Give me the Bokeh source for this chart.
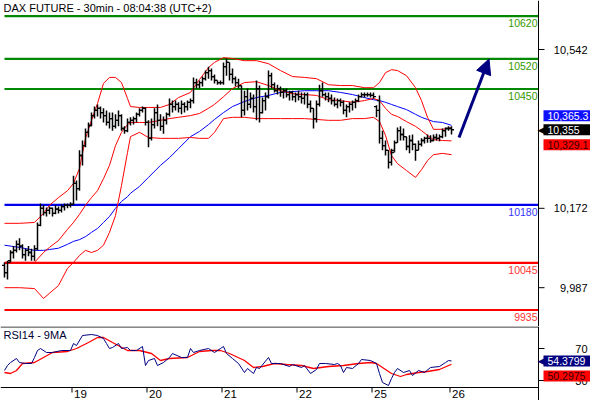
from bokeh.plotting import figure
from bokeh.layouts import column
from bokeh.models import (ColumnDataSource, Range1d, Label, Arrow, NormalHead)
from bokeh.core.properties import value
from bokeh.embed import file_html
from bokeh.resources import INLINE

# ---------------- data ----------------
title_text = "DAX FUTURE - 30min - 08:04:38 (UTC+2)"
rsi_title = "RSI14 - 9MA"

day_labels = ["19", "20", "21", "22", "25", "26"]
day_start = [22.5, 47.5, 72.5, 97.5, 122.5, 148.5]   # bar index where each day starts

open_ = [10039, 10022, 10050, 10069, 10074, 10088, 10084, 10064, 10074, 10069,
         10060, 10078, 10132, 10172, 10162, 10167, 10172, 10160, 10170, 10167,
         10176, 10179, 10179, 10181, 10230, 10218, 10295, 10318, 10349, 10365,
         10388, 10400, 10405, 10395, 10388, 10372, 10381, 10363, 10377, 10388,
         10358, 10353, 10372, 10377, 10381, 10391, 10400, 10405, 10372, 10335,
         10367, 10395, 10377, 10363, 10377, 10391, 10414, 10409, 10414, 10405,
         10414, 10409, 10419, 10423, 10465, 10460, 10465, 10474, 10488, 10493,
         10479, 10470, 10465, 10465, 10502, 10512, 10484, 10474, 10465, 10458,
         10400, 10432, 10414, 10428, 10409, 10451, 10395, 10423, 10432, 10481,
         10460, 10446, 10451, 10442, 10446, 10437, 10442, 10432, 10437, 10432,
         10428, 10437, 10414, 10405, 10381, 10414, 10446, 10437, 10432, 10428,
         10423, 10414, 10423, 10419, 10400, 10409, 10414, 10419, 10423, 10432,
         10437, 10437, 10437, 10435, 10409, 10423, 10335, 10318, 10307, 10279,
         10307, 10325, 10353, 10344, 10339, 10316, 10330, 10321, 10307, 10321,
         10330, 10335, 10335, 10330, 10337, 10335, 10339, 10353, 10358, 10358]

high = [10046, 10050, 10074, 10084, 10097, 10102, 10088, 10078, 10084, 10078,
        10086, 10139, 10183, 10179, 10174, 10176, 10174, 10179, 10176, 10181,
        10183, 10183, 10186, 10248, 10237, 10307, 10330, 10358, 10372, 10395,
        10409, 10414, 10409, 10405, 10400, 10395, 10395, 10391, 10400, 10391,
        10363, 10381, 10384, 10386, 10395, 10405, 10409, 10407, 10377, 10381,
        10405, 10414, 10391, 10386, 10395, 10428, 10423, 10423, 10419, 10423,
        10419, 10423, 10428, 10477, 10474, 10470, 10479, 10493, 10502, 10498,
        10484, 10470, 10470, 10512, 10521, 10512, 10498, 10479, 10474, 10458,
        10446, 10451, 10442, 10437, 10470, 10458, 10430, 10442, 10493, 10488,
        10465, 10460, 10456, 10451, 10451, 10446, 10446, 10442, 10446, 10442,
        10442, 10442, 10423, 10405, 10423, 10460, 10465, 10442, 10442, 10437,
        10430, 10428, 10428, 10423, 10414, 10419, 10423, 10428, 10437, 10442,
        10442, 10442, 10442, 10442, 10412, 10435, 10353, 10330, 10307, 10311,
        10330, 10360, 10363, 10358, 10339, 10342, 10344, 10323, 10330, 10335,
        10339, 10344, 10342, 10344, 10346, 10344, 10358, 10360, 10363, 10363]

low = [10011, 10006, 10046, 10055, 10069, 10074, 10055, 10050, 10060, 10050,
       10050, 10074, 10130, 10155, 10153, 10158, 10153, 10158, 10160, 10162,
       10167, 10172, 10174, 10179, 10190, 10213, 10272, 10314, 10337, 10363,
       10381, 10386, 10381, 10372, 10365, 10358, 10353, 10358, 10363, 10353,
       10346, 10349, 10365, 10367, 10372, 10386, 10395, 10365, 10314, 10330,
       10358, 10363, 10353, 10346, 10367, 10386, 10395, 10400, 10395, 10391,
       10395, 10400, 10405, 10416, 10451, 10451, 10456, 10470, 10474, 10470,
       10463, 10460, 10460, 10460, 10481, 10470, 10463, 10456, 10451, 10384,
       10388, 10400, 10405, 10395, 10377, 10372, 10393, 10400, 10428, 10451,
       10442, 10437, 10432, 10428, 10430, 10423, 10423, 10419, 10423, 10416,
       10414, 10405, 10395, 10358, 10372, 10409, 10432, 10423, 10419, 10414,
       10409, 10405, 10409, 10391, 10384, 10395, 10400, 10405, 10419, 10430,
       10430, 10432, 10430, 10428, 10384, 10323, 10307, 10295, 10265, 10272,
       10302, 10325, 10330, 10330, 10307, 10300, 10307, 10283, 10307, 10316,
       10323, 10325, 10325, 10328, 10330, 10328, 10335, 10339, 10353, 10344]

close = [10022, 10046, 10069, 10074, 10088, 10084, 10064, 10074, 10069, 10060,
         10078, 10132, 10172, 10162, 10167, 10172, 10160, 10170, 10167, 10176,
         10179, 10179, 10181, 10230, 10218, 10295, 10318, 10349, 10365, 10388,
         10400, 10405, 10395, 10388, 10372, 10381, 10363, 10377, 10388, 10358,
         10353, 10372, 10377, 10381, 10391, 10400, 10405, 10372, 10335, 10367,
         10395, 10377, 10363, 10377, 10391, 10414, 10409, 10414, 10405, 10414,
         10409, 10419, 10423, 10465, 10460, 10465, 10474, 10488, 10493, 10479,
         10470, 10465, 10465, 10502, 10512, 10484, 10474, 10465, 10458, 10400,
         10432, 10414, 10428, 10409, 10451, 10395, 10423, 10432, 10481, 10460,
         10446, 10451, 10442, 10446, 10437, 10442, 10432, 10437, 10432, 10428,
         10437, 10414, 10405, 10381, 10414, 10446, 10437, 10432, 10428, 10423,
         10414, 10423, 10419, 10400, 10409, 10414, 10419, 10423, 10432, 10437,
         10437, 10437, 10435, 10432, 10400, 10335, 10318, 10307, 10279, 10302,
         10325, 10353, 10344, 10339, 10316, 10330, 10321, 10307, 10321, 10330,
         10335, 10335, 10330, 10337, 10335, 10339, 10353, 10358, 10358, 10355]

band_idx = [0, 5, 10, 13, 15, 18, 21, 23, 25, 27,
            29, 31, 33, 35, 37, 39, 41, 42, 45, 48,
            52, 55, 58, 62, 65, 68, 70, 73, 76, 80,
            84, 88, 92, 96, 100, 104, 108, 112, 116, 120,
            123, 125, 127, 129, 131, 134, 137, 139, 141, 143,
            146, 149]

bb_upper = [10137, 10137, 10139, 10160, 10179, 10197, 10213, 10230, 10265, 10335,
            10377, 10416, 10463, 10477, 10477, 10465, 10428, 10409, 10407, 10407,
            10407, 10414, 10430, 10442, 10472, 10500, 10512, 10523, 10521, 10516,
            10516, 10509, 10493, 10479, 10477, 10474, 10460, 10458, 10458, 10453,
            10453, 10465, 10488, 10495, 10493, 10481, 10453, 10423, 10384, 10356,
            10356, 10360]

bb_middle = [10046, 10046, 10046, 10069, 10081, 10097, 10123, 10139, 10158, 10179,
             10197, 10213, 10241, 10272, 10318, 10349, 10367, 10372, 10372, 10372,
             10377, 10381, 10384, 10388, 10393, 10405, 10414, 10432, 10451, 10465,
             10467, 10458, 10446, 10439, 10437, 10435, 10425, 10423, 10419, 10423,
             10428, 10423, 10405, 10391, 10386, 10374, 10363, 10353, 10342, 10332,
             10330, 10329.1]

bb_lower = [9987, 9987, 9985, 9962, 9974, 9992, 10032, 10046, 10062, 10074,
            10069, 10074, 10086, 10116, 10155, 10225, 10302, 10339, 10349, 10337,
            10335, 10335, 10335, 10337, 10335, 10335, 10349, 10381, 10384, 10384,
            10381, 10381, 10381, 10381, 10381, 10379, 10377, 10377, 10381, 10381,
            10384, 10374, 10342, 10295, 10276, 10260, 10244, 10262, 10283, 10297,
            10300, 10297]

ma_blue = [10086, 10081, 10074, 10074, 10076, 10079, 10088, 10095, 10099, 10106,
           10116, 10125, 10139, 10153, 10172, 10188, 10199, 10207, 10223, 10244,
           10272, 10290, 10311, 10339, 10351, 10367, 10379, 10395, 10409, 10421,
           10430, 10435, 10442, 10444, 10446, 10446, 10446, 10442, 10437, 10430,
           10425, 10423, 10419, 10414, 10409, 10402, 10391, 10384, 10379, 10374,
           10372, 10365.3]

level_values = [10620, 10520, 10450, 10180, 10045, 9935]
price_ticks = [10542, 10172, 9987]

forecast_from = 10337
forecast_to = 10520

rsi_idx = [0, 1, 2, 4, 5, 7, 9, 10, 11, 12,
           14, 16, 19, 22, 23, 24, 26, 29, 31, 33,
           34, 35, 36, 38, 39, 41, 42, 44, 46, 47,
           48, 50, 51, 53, 55, 56, 59, 61, 62, 63,
           65, 68, 70, 72, 73, 74, 76, 78, 80, 81,
           83, 84, 85, 88, 89, 92, 95, 96, 99, 100,
           102, 104, 105, 107, 110, 111, 112, 113, 114, 116,
           118, 119, 122, 124, 125, 126, 128, 129, 130, 131,
           133, 135, 136, 138, 140, 142, 145, 147, 148, 149]
rsi_val = [42.5, 48.75, 52.5, 57.5, 52.5, 51.25, 51.25, 58.75, 67.5, 70,
           65, 65, 67.5, 67.5, 76.25, 73.75, 86.25, 87.5, 86.25, 82.5,
           76.25, 70, 71.25, 76.25, 70, 71.25, 67.5, 67.5, 72.5, 48.75,
           55, 57.5, 48.75, 52.5, 58.75, 63.75, 58.75, 58.75, 70, 65,
           67.5, 70, 65, 70, 72.5, 63.75, 57.5, 51.25, 40, 45,
           38.75, 46.25, 45, 58.75, 51.25, 51.25, 47.5, 50, 46.25, 48.75,
           38.75, 43.75, 51.25, 51.25, 50, 51.25, 48.75, 40, 46.25, 45,
           51.25, 56.25, 55, 51.25, 38.75, 27.5, 23.75, 32.5, 40, 45,
           40, 42.5, 36.25, 42.5, 40, 46.25, 47.5, 52.5, 55, 54.3799]

rsi_ma_idx = [0, 2, 4, 6, 10, 13, 16, 21, 24, 28,
              31, 33, 36, 41, 45, 49, 52, 55, 61, 65,
              69, 72, 75, 80, 83, 86, 90, 94, 99, 103,
              108, 113, 118, 122, 124, 127, 129, 132, 134, 138,
              141, 145, 149]
rsi_ma_val = [40, 38.75, 42.5, 51.25, 52.5, 58.75, 65, 66.25, 70, 77.5,
              83.75, 83.75, 77.5, 67.5, 67.5, 63.75, 55, 57.5, 58.75, 66.25,
              67.5, 67.5, 63.75, 55, 46.25, 47.5, 51.25, 50, 48.75, 45,
              47.5, 48.75, 51.25, 52.5, 51.25, 43.75, 38.75, 35, 37.5, 40,
              41.25, 43.75, 50.2975]
rsi_ticks = [70, 30]

# ---------------- layout / styling ----------------
FONT = "Liberation Sans"
W = 590
MAIN_H = 326
RSI_H = 74
X_MIN, X_MAX = -1.333, 195.333      # bar-index range covering the full width
AX = 178.0                          # bar-index position of the right scale line
PX = 3.0                            # pixels per bar (for tick lengths)
P_LO, P_HI = 9896.6, 10656.2        # price range of the upper panel
R_LO, R_HI = 5.0, 97.5              # RSI range of the lower panel
R_BASE = 21.25                      # RSI value at the time-axis line
R_TICK_END = 15.0
R_LABEL = 13.5
R_TOPLINE = 96.9

GREEN = "#008800"
GREEN_TXT = "#339900"
BLUE = "#0000ee"
RED = "#ff0000"
NAVY = "#000080"
level_line_colors = [GREEN, GREEN, GREEN, BLUE, RED, RED]
level_text_colors = [GREEN_TXT, GREEN_TXT, GREEN_TXT, "#3333ff", "#ff3333", "#ff3333"]

xr = Range1d(X_MIN, X_MAX)


def base_fig(height, y0, y1):
    f = figure(width=W, height=height, x_range=xr, y_range=Range1d(y0, y1),
               output_backend="svg", toolbar_location=None,
               x_axis_location=None, y_axis_location=None,
               min_border_left=0, min_border_right=0,
               min_border_top=0, min_border_bottom=0)
    f.grid.visible = False
    f.outline_line_color = None
    f.background_fill_color = "white"
    f.border_fill_color = "white"
    return f


def scale(f, y0, y1, ticks, labels):
    # right-hand value scale drawn through the figure's own scales
    f.segment(x0=AX, y0=y0, x1=AX, y1=y1, line_color="black", line_width=1)
    f.segment(x0=[AX] * len(ticks), y0=ticks, x1=[AX + 6 / PX] * len(ticks), y1=ticks,
              line_color="black", line_width=1)
    for t, s in zip(ticks, labels):
        f.add_layout(Label(x=AX, y=t, x_offset=49, text=s, text_align="right",
                           text_baseline="middle", text_font=FONT, text_font_size="11px",
                           text_color="black"))


def value_box(f, y, text, bg, fg, y_offset=0, pointer=False):
    if pointer:
        f.add_layout(Label(x=AX, y=y, x_offset=-1, y_offset=y_offset, text="\u25c0",
                           text_align="left", text_baseline="middle",
                           text_font="DejaVu Sans", text_font_size="13px", text_color=bg))
    f.add_layout(Label(x=AX, y=y, x_offset=5, y_offset=y_offset, text=text,
                       text_align="left", text_baseline="middle",
                       text_font=FONT, text_font_size="10.5px", text_color=fg,
                       background_fill_color=bg,
                       padding=dict(left=4, right=12, top=2, bottom=1)))


# ---------------- main price panel ----------------
p = base_fig(MAIN_H, P_LO, P_HI)

idx = list(range(len(close)))
src = ColumnDataSource(dict(x=idx, o=open_, h=high, l=low, c=close,
                            xl=[i - 0.85 for i in idx], xr=[i + 0.85 for i in idx]))

for v, lc, tc in zip(level_values, level_line_colors, level_text_colors):
    p.segment(x0=0, y0=v, x1=AX, y1=v, line_color=lc, line_width=2.2)
    p.add_layout(Label(x=AX, y=v, x_offset=-1, y_offset=-3, text=str(v),
                       text_align="right", text_baseline="top",
                       text_font=FONT, text_font_size="10.5px", text_color=tc))

p.line(band_idx, ma_blue, line_color="#0000ff", line_width=1)
p.line(band_idx, bb_upper, line_color=RED, line_width=1)
p.line(band_idx, bb_middle, line_color=RED, line_width=1)
p.line(band_idx, bb_lower, line_color=RED, line_width=1)

p.segment(x0="x", y0="l", x1="x", y1="h", source=src, line_color="black", line_width=1.5)
p.segment(x0="xl", y0="o", x1="x", y1="o", source=src, line_color="black", line_width=1.3)
p.segment(x0="x", y0="c", x1="xr", y1="c", source=src, line_color="black", line_width=1.3)

last_i = idx[-1]
p.add_layout(Arrow(end=NormalHead(size=15, fill_color=NAVY, line_color=NAVY),
                   x_start=last_i + 2.5, y_start=forecast_from,
                   x_end=last_i + 12.5, y_end=forecast_to,
                   line_color=NAVY, line_width=3))

p.add_layout(Label(x=X_MIN, y=P_HI, x_offset=3, y_offset=-1, text=title_text,
                   text_align="left", text_baseline="top", text_font=FONT,
                   text_font_size="11px", text_color="black"))

scale(p, P_LO, P_HI, price_ticks, [f"{t:,}" for t in price_ticks])

last_close = close[-1]
value_box(p, last_close, f"{ma_blue[-1]:,.1f}", "#1010ff", "white", y_offset=14)
value_box(p, last_close, f"{last_close:,}", "black", "white", pointer=True)
value_box(p, last_close, f"{bb_middle[-1]:,.1f}", "#ff0000", "#330000", y_offset=-15)

# ---------------- RSI panel ----------------
r = base_fig(RSI_H, R_LO, R_HI)

r.segment(x0=X_MIN, y0=R_TOPLINE, x1=AX, y1=R_TOPLINE, line_color="black", line_width=1)
r.segment(x0=X_MIN, y0=R_BASE, x1=AX, y1=R_BASE, line_color="black", line_width=1)
r.segment(x0=day_start, y0=[R_BASE] * len(day_start), x1=day_start,
          y1=[R_TICK_END] * len(day_start), line_color="black", line_width=1)
day_src = ColumnDataSource(dict(x=[d + 0.7 for d in day_start], y=[R_LABEL] * len(day_start),
                                t=day_labels))
r.text(x="x", y="y", text="t", source=day_src, text_font=value(FONT),
       text_font_size="11.5px", text_color="black", text_align="left",
       text_baseline="middle")

r.line(rsi_ma_idx, rsi_ma_val, line_color=RED, line_width=1.3)
r.line(rsi_idx, rsi_val, line_color=NAVY, line_width=1)

r.add_layout(Label(x=X_MIN, y=R_TOPLINE, x_offset=3, y_offset=-2, text=rsi_title,
                   text_align="left", text_baseline="top", text_font=FONT,
                   text_font_size="11px", text_color="#000033"))

scale(r, R_LO, R_HI, rsi_ticks, [str(t) for t in rsi_ticks])

value_box(r, rsi_val[-1], f"{rsi_val[-1]:.4f}", NAVY, "white", pointer=True)
value_box(r, rsi_val[-1], f"{rsi_ma_val[-1]:.4f}", "#ff0000", "#330000", y_offset=-15)

layout = column(p, r, spacing=0)
open("out.html", "w").write(file_html(layout, INLINE))
